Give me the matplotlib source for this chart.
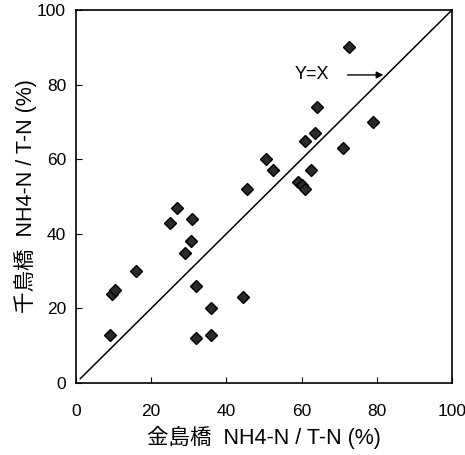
import numpy as np
import matplotlib
matplotlib.use('Agg')
import matplotlib.pyplot as plt

plt.rcParams['font.family'] = ['Liberation Sans', 'Noto Sans CJK JP', 'DejaVu Sans']

x_kin = [9, 9.5, 10.5, 16, 25, 27, 31, 30.5, 29, 32, 32, 36, 36, 44.5, 45.5,
         50.5, 52.5, 59, 60, 61, 62.5, 61, 63.5, 64, 71, 72.5, 79]
y_sen = [13, 24, 25, 30, 43, 47, 44, 38, 35, 26, 12, 13, 20, 23, 52,
         60, 57, 54, 53, 52, 57, 65, 67, 74, 63, 90, 70]

fig = plt.figure(figsize=(4.65, 4.55), dpi=100)
ax = fig.add_axes([0.163, 0.158, 0.809, 0.820])

# Gerade Y=X
t = np.array([1.2, 100])
ax.plot(t, t, color='black', lw=1.1)
ax.plot(x_kin, y_sen, 'D', color='#2a2a2a', markersize=6.5, markeredgecolor='black')

ax.annotate('', xy=(82.5, 82.6), xytext=(71.5, 82.6),
            arrowprops=dict(arrowstyle='-|>', color='black', lw=1.0, mutation_scale=10))
ax.text(62.8, 82.6, 'Y=X', ha='center', va='center', fontsize=13)

ax.set_xlim(0, 100)
ax.set_ylim(0, 100)
ax.set_xticks(range(0, 101, 20))
ax.set_yticks(range(0, 101, 20))
ax.tick_params(direction='in', length=4, labelsize=12.5)
ax.tick_params(axis='x', pad=15)
ax.tick_params(axis='y', pad=7)
for s in ax.spines.values():
    s.set_linewidth(1.2)

ax.set_xlabel('金島橋  NH4-N / T-N (%)', fontsize=15.5, labelpad=5)
ax.set_ylabel('千鳥橋  NH4-N / T-N (%)', fontsize=15.5, labelpad=0)

fig.savefig('out.png', dpi=100)
